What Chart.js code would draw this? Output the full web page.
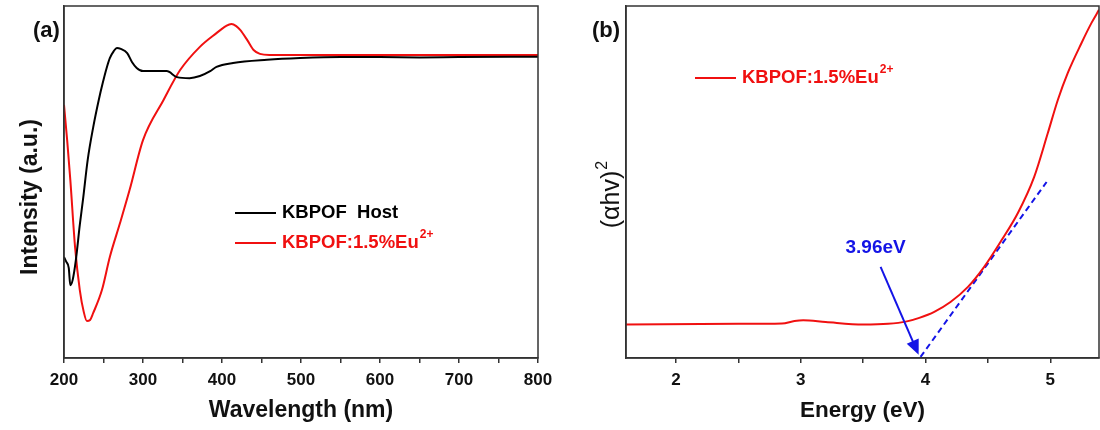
<!DOCTYPE html>
<html>
<head>
<meta charset="utf-8">
<script src="https://cdn.jsdelivr.net/npm/chart.js@4.4.0/dist/chart.umd.min.js"></script>
<style>
  body { margin: 0; background: #fff; }
  #wrap { position: relative; width: 1100px; height: 430px; }
  canvas { position: absolute; top: 0; }
</style>
</head>
<body>
<div id="wrap">
  <canvas id="chartA" width="560" height="430" style="left:0"></canvas>
  <canvas id="chartB" width="540" height="430" style="left:560px"></canvas>
</div>
<script>
// Panel (a): reflectance spectra
const hostWavelength = [200, 203, 206, 208, 211, 215, 220, 224, 230, 237, 244, 249, 254, 258, 263, 267, 272, 280, 286, 292, 300, 310, 330, 343, 359, 372, 385, 393, 414, 457, 499, 550, 600, 650, 700, 800];
const hostIntensity  = [28.7, 27.3, 25.6, 20.7, 22.2, 27.8, 37.8, 44.9, 56.3, 65.6, 73.3, 78.1, 82.4, 85.2, 87.2, 88.1, 87.8, 86.6, 84.1, 82.4, 81.5, 81.5, 81.5, 79.8, 79.5, 80.1, 81.5, 82.7, 83.8, 84.7, 85.2, 85.5, 85.5, 85.4, 85.5, 85.6];
const euWavelength = [200, 204, 208, 214, 220, 225, 229, 233, 237, 248, 258, 271, 283, 300, 326, 347, 372, 393, 405, 412, 418, 423, 432, 440, 448, 460, 600, 800];
const euIntensity  = [71.9, 61.9, 50.6, 31.5, 19.3, 13.1, 10.5, 10.8, 12.8, 19.3, 28.7, 38.4, 47.7, 61.9, 73.3, 81.8, 88.4, 92.3, 94.3, 94.9, 94.3, 93.2, 90.3, 87.5, 86.4, 86.1, 86.1, 86.1];

// Panel (b): Tauc plot
const energy = [1.6, 2.5, 2.85, 2.95, 3.02, 3.2, 3.5, 3.7, 3.85, 3.95, 4.07, 4.2, 4.34, 4.47, 4.61, 4.74, 4.87, 4.98, 5.06, 5.14, 5.25, 5.33, 5.39];
const tauc   = [9.5, 9.7, 9.8, 10.5, 10.7, 10.2, 9.5, 9.7, 10.4, 11.4, 13.1, 15.9, 20.2, 25.9, 33.5, 41.2, 51.4, 63.9, 73.3, 81.0, 89.5, 95.2, 98.9];
const fitEnergy = [3.96, 4.97];
const fitValue  = [0.3, 50];
const arrowFrom = [3.64, 25.9];
const arrowTo   = [3.945, 0.9];
const gapLabel  = '3.96eV';
const gapLabelAt = [3.6, 31.3];

const RED = '#f01010';
const BLUE = '#1414e6';
const AXIS = '#333';
const FONT = '"Liberation Sans", Arial, sans-serif';

function pts(xs, ys) {
  return xs.map((x, i) => ({ x: x, y: ys[i] }));
}

// legend text with superscript "2+"
function drawLabel(ctx, x, y, text, sup, color) {
  ctx.save();
  ctx.fillStyle = color;
  ctx.textBaseline = 'middle';
  ctx.textAlign = 'left';
  ctx.font = 'bold 18.5px ' + FONT;
  ctx.fillText(text, x, y);
  if (sup) {
    const w = ctx.measureText(text).width;
    ctx.font = 'bold 12px ' + FONT;
    ctx.fillText(sup, x + w + 1, y - 8);
  }
  ctx.restore();
}

function legendItem(ctx, x, y, color, text, sup) {
  ctx.save();
  ctx.strokeStyle = color;
  ctx.lineWidth = 2;
  ctx.beginPath();
  ctx.moveTo(x, y);
  ctx.lineTo(x + 41, y);
  ctx.stroke();
  ctx.restore();
  drawLabel(ctx, x + 47, y, text, sup, color);
}

// frame, panel letter and rotated y title
const framePlugin = {
  id: 'frame',
  afterDraw(chart, args, opts) {
    const { ctx, chartArea: a } = chart;
    ctx.save();
    ctx.strokeStyle = AXIS;
    ctx.lineWidth = 1.5;
    ctx.strokeRect(a.left, a.top, a.right - a.left, a.bottom - a.top);
    ctx.fillStyle = '#111';
    ctx.font = 'bold 22px ' + FONT;
    ctx.textBaseline = 'middle';
    ctx.textAlign = 'left';
    ctx.fillText(opts.panel, opts.panelX, 31);

    ctx.translate(opts.titleX, opts.titleY);
    ctx.rotate(-Math.PI / 2);
    ctx.font = opts.titleFont;
    const w = ctx.measureText(opts.title).width;
    let sw = 0;
    if (opts.titleSup) {
      ctx.font = '16px ' + FONT;
      sw = ctx.measureText(opts.titleSup).width;
      ctx.font = opts.titleFont;
    }
    ctx.textAlign = 'left';
    ctx.fillText(opts.title, -(w + sw) / 2, 0);
    if (opts.titleSup) {
      ctx.font = '16px ' + FONT;
      ctx.fillText(opts.titleSup, -(w + sw) / 2 + w + 1, -9);
    }
    ctx.restore();
  }
};

function xAxis(min, max, step, title, size, isInt) {
  return {
    type: 'linear',
    min: min,
    max: max,
    afterFit: s => { s.height = 72; },
    ticks: {
      stepSize: step,
      includeBounds: false,
      padding: 7,
      color: '#111',
      font: { family: FONT, size: 17, weight: 'bold' },
      callback: v => isInt(v) ? String(Math.round(v)) : ''
    },
    grid: { drawOnChartArea: false, drawTicks: true, tickLength: 5, color: AXIS, lineWidth: 1.5 },
    border: { display: true, color: AXIS, width: 1.5 },
    title: {
      display: true,
      text: title,
      color: '#111',
      font: { family: FONT, size: size, weight: 'bold' },
      padding: { top: 0, bottom: 6 }
    }
  };
}

function yAxis(width) {
  return {
    type: 'linear',
    min: 0,
    max: 100,
    afterFit: s => { s.width = width; },
    ticks: { display: false },
    grid: { display: false },
    border: { display: true, color: AXIS, width: 1.5 }
  };
}

const legendA = {
  id: 'legendA',
  afterDraw(chart) {
    const ctx = chart.ctx;
    legendItem(ctx, 235, 213, '#000', 'KBPOF  Host', '');
    legendItem(ctx, 235, 243, RED, 'KBPOF:1.5%Eu', '2+');
  }
};

new Chart(document.getElementById('chartA'), {
  type: 'line',
  data: {
    datasets: [
      { label: 'KBPOF  Host', data: pts(hostWavelength, hostIntensity), borderColor: '#000', borderWidth: 2, pointRadius: 0, cubicInterpolationMode: 'monotone' },
      { label: 'KBPOF:1.5%Eu2+', data: pts(euWavelength, euIntensity), borderColor: RED, borderWidth: 2, pointRadius: 0, cubicInterpolationMode: 'monotone' }
    ]
  },
  options: {
    responsive: false,
    animation: false,
    layout: { padding: { top: 6, right: 22, left: 0, bottom: 0 } },
    plugins: {
      legend: { display: false },
      tooltip: { enabled: false },
      frame: {
        panel: '(a)', panelX: 33,
        title: 'Intensity (a.u.)', titleFont: 'bold 23px ' + FONT, titleX: 31, titleY: 197
      }
    },
    scales: {
      x: xAxis(200, 800, 50, 'Wavelength (nm)', 23, v => Math.round(v) % 100 === 0),
      y: yAxis(64)
    }
  },
  plugins: [framePlugin, legendA]
});

const annotB = {
  id: 'annotB',
  afterDraw(chart) {
    const { ctx, scales: { x, y } } = chart;
    legendItem(ctx, 695 - 560, 78, RED, 'KBPOF:1.5%Eu', '2+');

    // arrow to the band gap
    const x0 = x.getPixelForValue(arrowFrom[0]), y0 = y.getPixelForValue(arrowFrom[1]);
    const x1 = x.getPixelForValue(arrowTo[0]), y1 = y.getPixelForValue(arrowTo[1]);
    const ang = Math.atan2(y1 - y0, x1 - x0);
    const head = 15;
    const half = 6.5;
    ctx.save();
    ctx.strokeStyle = BLUE;
    ctx.fillStyle = BLUE;
    ctx.lineWidth = 2;
    ctx.beginPath();
    ctx.moveTo(x0, y0);
    ctx.lineTo(x1 - Math.cos(ang) * head * 0.8, y1 - Math.sin(ang) * head * 0.8);
    ctx.stroke();
    ctx.beginPath();
    ctx.moveTo(x1, y1);
    ctx.lineTo(x1 - head * Math.cos(ang) + half * Math.sin(ang), y1 - head * Math.sin(ang) - half * Math.cos(ang));
    ctx.lineTo(x1 - head * Math.cos(ang) - half * Math.sin(ang), y1 - head * Math.sin(ang) + half * Math.cos(ang));
    ctx.closePath();
    ctx.fill();
    ctx.font = 'bold 19px ' + FONT;
    ctx.textAlign = 'center';
    ctx.textBaseline = 'middle';
    ctx.fillText(gapLabel, x.getPixelForValue(gapLabelAt[0]), y.getPixelForValue(gapLabelAt[1]));
    ctx.restore();
  }
};

new Chart(document.getElementById('chartB'), {
  type: 'line',
  data: {
    datasets: [
      { label: 'KBPOF:1.5%Eu2+', data: pts(energy, tauc), borderColor: RED, borderWidth: 2, pointRadius: 0, cubicInterpolationMode: 'monotone' },
      { label: 'fit', data: pts(fitEnergy, fitValue), borderColor: BLUE, borderWidth: 2, borderDash: [6, 4], pointRadius: 0 }
    ]
  },
  options: {
    responsive: false,
    animation: false,
    layout: { padding: { top: 6, right: 1, left: 0, bottom: 0 } },
    plugins: {
      legend: { display: false },
      tooltip: { enabled: false },
      frame: {
        panel: '(b)', panelX: 592 - 560,
        title: '(\u03b1hv)', titleSup: '2', titleFont: '25px ' + FONT, titleX: 612 - 560, titleY: 195
      }
    },
    scales: {
      x: xAxis(1.6, 5.39, 0.5, 'Energy (eV)', 22.5, v => Math.abs(v - Math.round(v)) < 1e-6),
      y: yAxis(66)
    }
  },
  plugins: [framePlugin, annotB]
});
</script>
</body>
</html>
